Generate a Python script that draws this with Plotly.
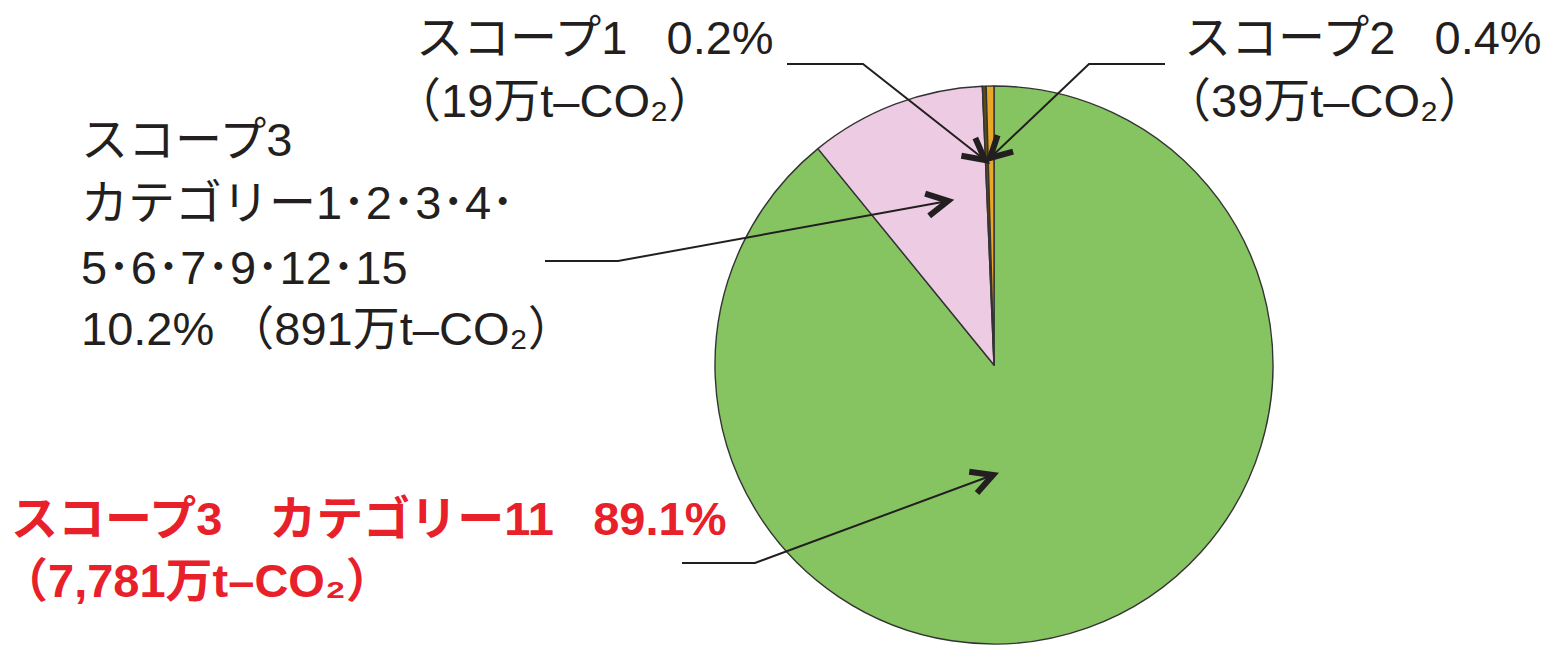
import math
import plotly.graph_objects as go

# Emissions breakdown (万t-CO2) and shares (%)
labels = ["スコープ3 カテゴリー11", "スコープ3 その他カテゴリー", "スコープ1", "スコープ2"]
emissions = [7781, 891, 19, 39]
shares = [89.1, 10.2, 0.2, 0.4]
colors = ["#86C462", "#ECCBE3", "#5E4C16", "#E8A826"]

W, H = 1553, 645
FONT = "Liberation Sans, Noto Sans CJK JP"
INK = "#231F20"
RED = "#E8202A"


def px(x, y):
    """pixel position -> paper coordinates"""
    return x / W, 1 - y / H


fig = go.Figure()

cx, cy, r = 994, 365, 279
x0, y1 = px(cx - r, cy - r)
x1, y0 = px(cx + r, cy + r)
fig.add_trace(go.Pie(
    labels=labels,
    values=emissions,
    sort=False,
    direction="clockwise",
    rotation=0,
    marker=dict(colors=colors, line=dict(color="#333333", width=1.4)),
    textinfo="none",
    hoverinfo="label+percent",
    domain=dict(x=[x0, x1], y=[max(y0, 0), y1]),
))

shapes = []


def leader(points, tip):
    """polyline from label to slice, with a chevron arrowhead at tip"""
    pts = points + [tip]
    path = "M " + " L ".join("%f,%f" % px(*p) for p in pts)
    shapes.append(dict(type="path", path=path, xref="paper", yref="paper",
                       line=dict(color=INK, width=2)))
    tx, ty = tip
    sx, sy = points[-1]
    ang = math.atan2(sy - ty, sx - tx)
    L, spread = 24, math.radians(28)
    a = (tx + L * math.cos(ang + spread), ty + L * math.sin(ang + spread))
    b = (tx + L * math.cos(ang - spread), ty + L * math.sin(ang - spread))
    head = "M %f,%f L %f,%f L %f,%f" % (*px(*a), *px(*tip), *px(*b))
    shapes.append(dict(type="path", path=head, xref="paper", yref="paper",
                       line=dict(color=INK, width=6)))


leader([(787, 64), (863, 64)], (985, 160))
leader([(1165, 64), (1089, 64)], (990, 158))
leader([(545, 261), (618, 261)], (948, 201))
leader([(682, 563), (755, 563)], (993, 475))

fig.update_layout(shapes=shapes)


def fmt(v):
    return "{:,}".format(v)


NB = "\u00a0"
SP3 = NB * 3
DOT = "･"
cats = DOT.join(["1", "2", "3", "4"]) + DOT
cats2 = DOT.join(["5", "6", "7", "9", "12", "15"])


def amount(v):
    return "（" + fmt(v) + "万t–CO₂）"


PAREN = 25  # blank left half of the full-width opening bracket

# (left x, centre y, text, colour, bold)
lines = [
    (415, 37, "スコープ1%s%.1f%%" % (SP3, shares[2]), INK, False),
    (418 - PAREN, 100, amount(emissions[2]), INK, False),
    (1183, 38, "スコープ2%s%.1f%%" % (SP3, shares[3]), INK, False),
    (1188 - PAREN, 100, amount(emissions[3]), INK, False),
    (80, 140, "スコープ3", INK, False),
    (80, 202, "カテゴリー" + cats, INK, False),
    (80, 267, cats2, INK, False),
    (80, 329, "%.1f%%%s%s" % (shares[1], NB, amount(emissions[1])), INK, False),
    (10, 518, "スコープ3\u3000カテゴリー11%s%.1f%%" % (SP3, shares[0]), RED, True),
    (0, 580, amount(emissions[0]), RED, True),
]
for x, y, text, col, bold in lines:
    ax, ay = px(x, y)
    fig.add_annotation(
        x=ax, y=ay, xref="paper", yref="paper", xanchor="left", yanchor="middle",
        text="<b>%s</b>" % text if bold else text, showarrow=False, align="left",
        borderpad=0,
        font=dict(family=FONT, size=47, color=col),
    )

fig.update_layout(
    width=W, height=H,
    margin=dict(l=0, r=0, t=0, b=0),
    paper_bgcolor="white", plot_bgcolor="white",
    showlegend=False,
)

fig.write_html("out.html")
